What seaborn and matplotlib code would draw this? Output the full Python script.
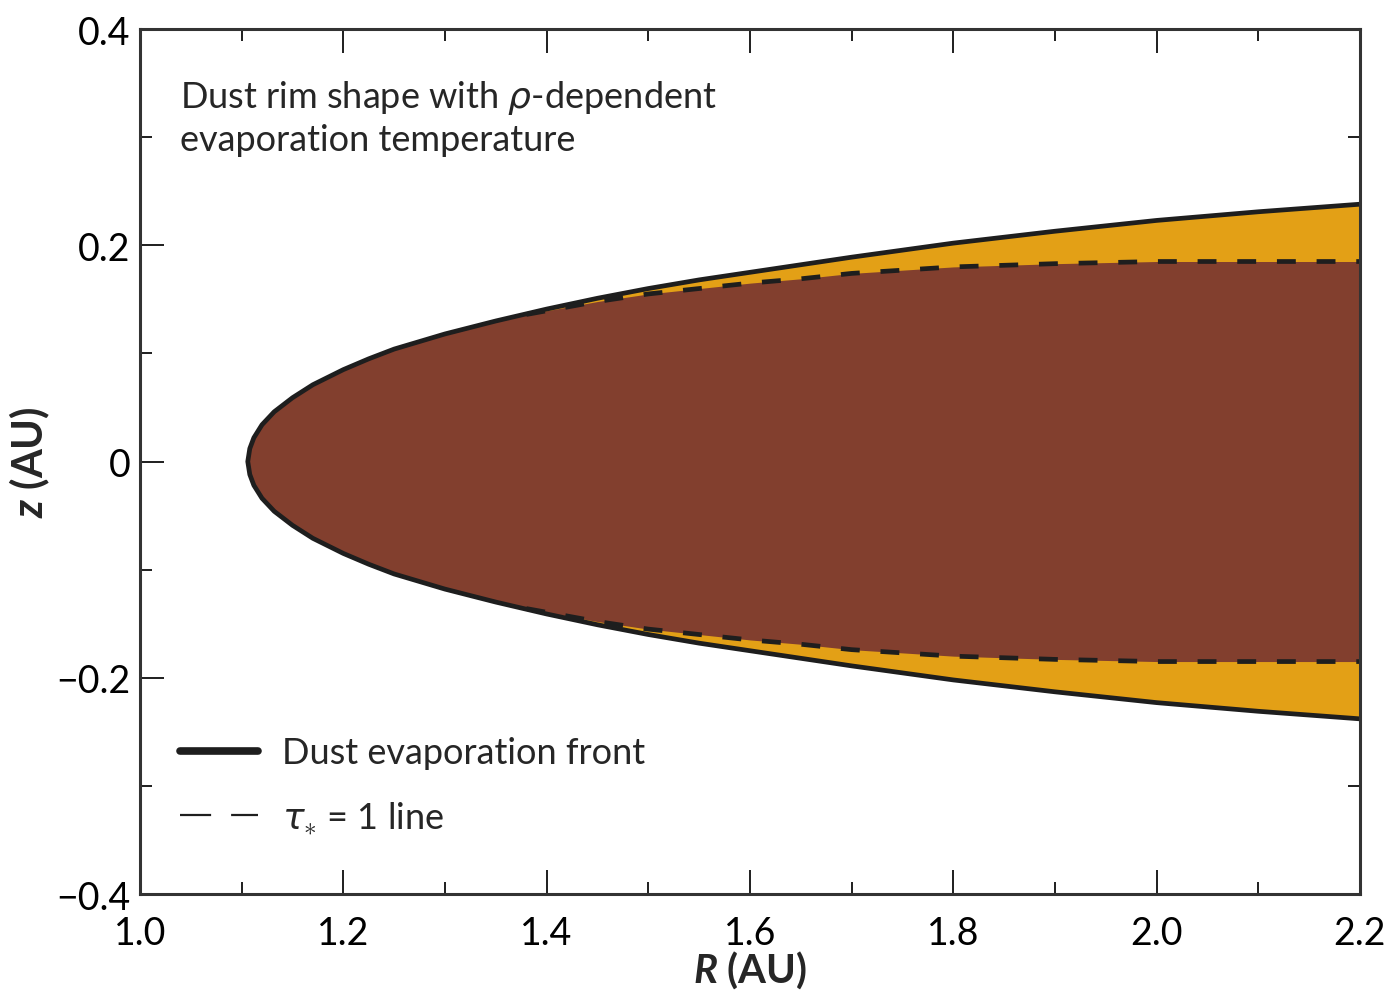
import numpy as np
import pandas as pd
import matplotlib
matplotlib.use("Agg")
import matplotlib.pyplot as plt
from matplotlib.lines import Line2D
from matplotlib.ticker import MultipleLocator, FixedLocator, FixedFormatter
import seaborn as sns

# dust evaporation front, upper half (z >= 0)
R_front = [1.106, 1.108, 1.112, 1.120, 1.132, 1.150, 1.170, 1.200, 1.225, 1.250,
           1.300, 1.350, 1.400, 1.450, 1.500, 1.550, 1.600, 1.700, 1.800, 1.900,
           2.000, 2.100, 2.200]
z_front = [0.000, 0.012, 0.022, 0.034, 0.046, 0.059, 0.071, 0.085, 0.095, 0.104,
           0.118, 0.130, 0.141, 0.151, 0.160, 0.168, 0.175, 0.189, 0.202, 0.213,
           0.223, 0.231, 0.238]

# tau_* = 1 line, upper half
R_tau = [1.38, 1.45, 1.50, 1.55, 1.60, 1.65, 1.70, 1.80, 1.90, 2.00, 2.10, 2.20]
z_tau = [0.136, 0.148, 0.155, 0.160, 0.165, 0.169, 0.174, 0.180, 0.183, 0.185, 0.185, 0.185]

x_ticks = [1.0, 1.2, 1.4, 1.6, 1.8, 2.0, 2.2]
x_labels = ["1.0", "1.2", "1.4", "1.6", "1.8", "2.0", "2.2"]
y_ticks = [-0.4, -0.2, 0.0, 0.2, 0.4]
y_labels = ["\u22120.4", "\u22120.2", "0", "0.2", "0.4"]

ORANGE = "#E3A016"
BROWN = "#823F2E"
INK = "#1e1e1e"

sns.set_theme(style="ticks")
plt.rcParams["font.family"] = ["Lato", "DejaVu Sans"]
plt.rcParams["mathtext.fontset"] = "custom"
plt.rcParams["mathtext.rm"] = "Lato"
plt.rcParams["mathtext.it"] = "DejaVu Sans:italic"
plt.rcParams["mathtext.bf"] = "Lato:bold"
plt.rcParams["mathtext.bfit"] = "Lato:bold:italic"

fig = plt.figure(figsize=(14, 9.95), dpi=100)
ax = fig.add_axes([0.1, 0.1005, 0.8714, 0.8693])

# full closed front: lower half reversed, then upper half
front = pd.DataFrame({
    "R": R_front[::-1] + R_front[1:],
    "z": [-v for v in z_front[::-1]] + z_front[1:],
})

# brown region: bounded by the front up to where the tau line starts, then by the tau line
R_in = [r for r in R_front if r < R_tau[0]] + R_tau
z_in = [z for r, z in zip(R_front, z_front) if r < R_tau[0]] + z_tau

ax.fill_between(R_front, [-v for v in z_front], z_front, color=ORANGE, lw=0)
ax.fill_between(R_in, [-v for v in z_in], z_in, color=BROWN, lw=0)

sns.lineplot(data=front, x="R", y="z", sort=False, estimator=None,
             color=INK, lw=3.4, ax=ax)
for sign in (1, -1):
    tau = pd.DataFrame({"R": R_tau, "z": [sign * v for v in z_tau]})
    sns.lineplot(data=tau, x="R", y="z", sort=False, estimator=None,
                 color=INK, lw=3.4, ax=ax).lines[-1].set_dashes([4, 4.4])

ax.set_xlim(1.0, 2.2)
ax.set_ylim(-0.4, 0.4)
ax.xaxis.set_major_locator(FixedLocator(x_ticks))
ax.xaxis.set_major_formatter(FixedFormatter(x_labels))
ax.yaxis.set_major_locator(FixedLocator(y_ticks))
ax.yaxis.set_major_formatter(FixedFormatter(y_labels))
ax.xaxis.set_minor_locator(MultipleLocator(0.1))
ax.yaxis.set_minor_locator(MultipleLocator(0.1))
ax.tick_params(which="both", direction="in", top=True, right=True, color=INK,
               width=1.4, labelsize=27, labelcolor="black")
ax.tick_params(which="major", length=17)
ax.tick_params(which="minor", length=8.5)
ax.tick_params(axis="x", which="major", pad=15)
ax.tick_params(axis="y", which="major", pad=7)
for s in ax.spines.values():
    s.set_linewidth(2.2)
    s.set_color("#333333")

ax.set_xlabel(r"$\mathbfit{R}$ (AU)", fontsize=29, fontweight="bold")
ax.set_ylabel(r"$\mathbfit{z}$ (AU)", fontsize=30, fontweight="bold")
ax.xaxis.set_label_coords(0.5, -0.063)
ax.yaxis.set_label_coords(-0.072, 0.5)

ax.text(0.033, 0.9435, "Dust rim shape with $\\rho$-dependent\nevaporation temperature",
        transform=ax.transAxes, ha="left", va="top", fontsize=26, linespacing=1.28)

handles = [
    Line2D([], [], color=INK, lw=5.5),
    Line2D([], [], color=INK, lw=1.6, dashes=[14, 9]),
]
ax.legend(handles, ["Dust evaporation front", r"$\tau_{\ast}$ = 1 line"],
          loc="upper left", bbox_to_anchor=(0.0328, 0.1825), frameon=False,
          borderpad=0, borderaxespad=0, fontsize=26, handlelength=2.16,
          handletextpad=0.66, labelspacing=0.83)

fig.savefig("out.png", dpi=100)
